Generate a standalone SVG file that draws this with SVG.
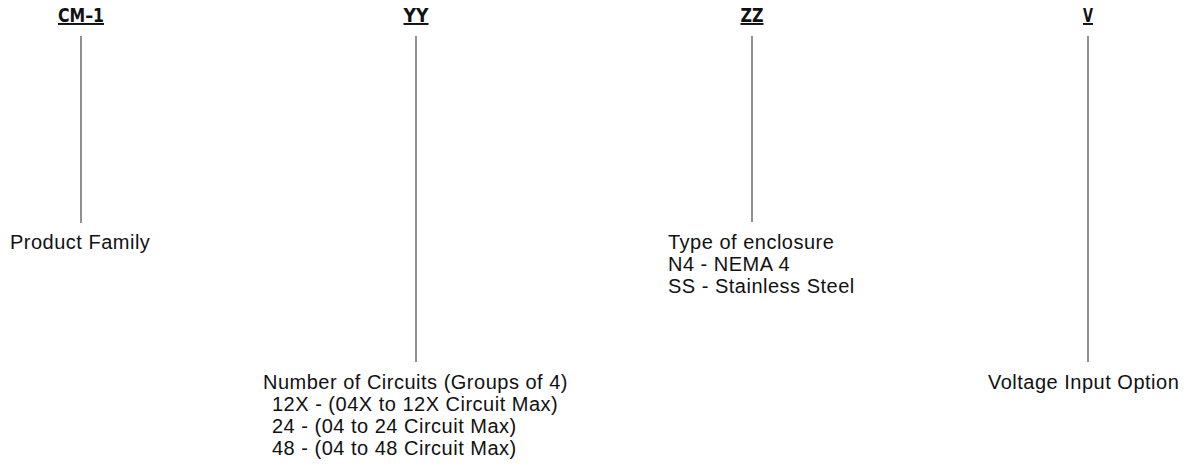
<svg xmlns="http://www.w3.org/2000/svg" width="1197" height="468" viewBox="0 0 1197 468">
<style>
.hd{font-family:"Liberation Sans Narrow","DejaVu Sans Condensed","Liberation Sans",sans-serif;font-weight:bold;font-size:19.5px;fill:#111;text-anchor:middle;text-decoration:underline}
.lb{font-family:"Liberation Sans",Arial,sans-serif;font-size:20px;letter-spacing:0.5px;fill:#111}
.ln{stroke:#222;stroke-width:1;fill:none}
</style>
<rect width="1197" height="468" fill="#fff"/>
<g id="connectors">
<line class="ln" x1="81" y1="36" x2="81" y2="223"/>
<line class="ln" x1="416" y1="36" x2="416" y2="362"/>
<line class="ln" x1="752" y1="36" x2="752" y2="222"/>
<line class="ln" x1="1088" y1="36" x2="1088" y2="362"/>
</g>
<g id="node-cm1">
<text class="hd" x="81" y="22" textLength="46" lengthAdjust="spacingAndGlyphs">CM–1</text>
<text class="lb" x="10" y="249">Product Family</text>
</g>
<g id="node-yy">
<text class="hd" x="416" y="22" textLength="25" lengthAdjust="spacingAndGlyphs">YY</text>
<text class="lb" x="263" y="389">Number of Circuits (Groups of 4)</text>
<text class="lb" x="272" y="411">12X - (04X to 12X Circuit Max)</text>
<text class="lb" x="272" y="433">24 - (04 to 24 Circuit Max)</text>
<text class="lb" x="272" y="455">48 - (04 to 48 Circuit Max)</text>
</g>
<g id="node-zz">
<text class="hd" x="752" y="22" textLength="23" lengthAdjust="spacingAndGlyphs">ZZ</text>
<text class="lb" x="668" y="249">Type of enclosure</text>
<text class="lb" x="668" y="271">N4 - NEMA 4</text>
<text class="lb" x="668" y="293">SS - Stainless Steel</text>
</g>
<g id="node-v">
<text class="hd" x="1088" y="22" textLength="10" lengthAdjust="spacingAndGlyphs">V</text>
<text class="lb" x="988" y="389">Voltage Input Option</text>
</g>
</svg>
